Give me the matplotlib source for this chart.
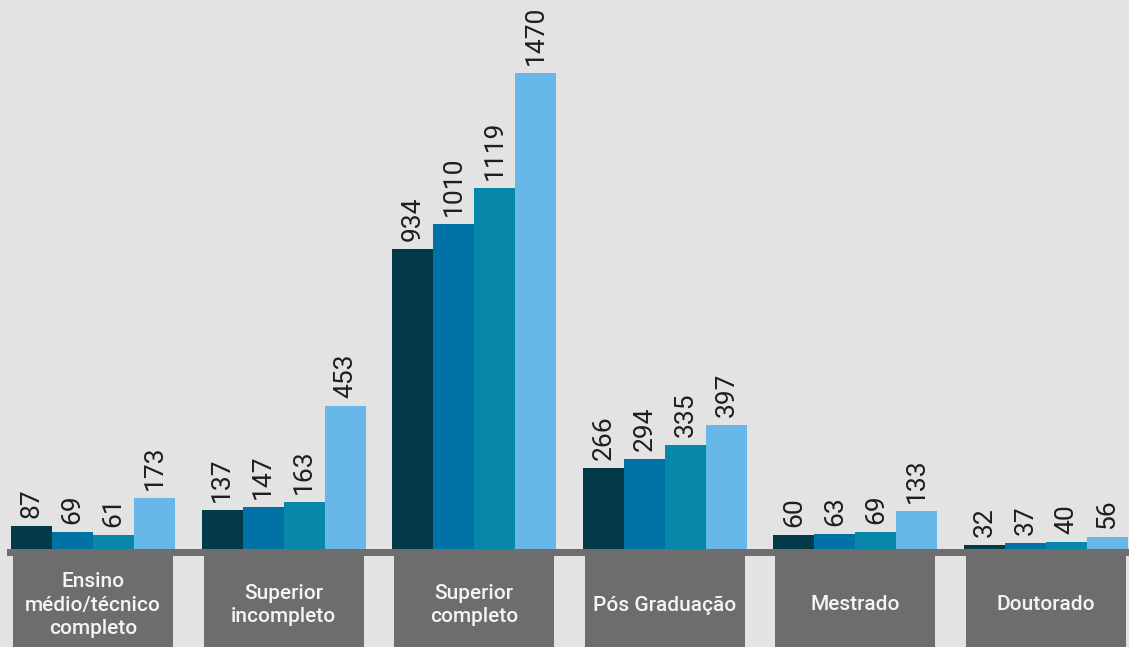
import numpy as np
import matplotlib.pyplot as plt
from matplotlib.patches import Rectangle

categories = ['Ensino\nmédio/técnico\ncompleto', 'Superior\nincompleto', 'Superior\ncompleto',
              'Pós Graduação', 'Mestrado', 'Doutorado']
s1 = [87, 137, 934, 266, 60, 32]
s2 = [69, 147, 1010, 294, 63, 37]
s3 = [61, 163, 1119, 335, 69, 40]
s4 = [173, 453, 1470, 397, 133, 56]
colors = ['#023a4a', '#0072a5', '#0787a9', '#67b8e8']

bg = '#e3e3e3'
W, H = 1129, 647
fig = plt.figure(figsize=(W / 100, H / 100), dpi=100, facecolor=bg)
ax = fig.add_axes([0, 0, 1, 1])
ax.set_facecolor(bg)

# pixel geometry -> data limits
gap = 190.6          # px between group starts
c0 = 93              # px centre of first group
zero = 555           # px of value 0 from top (hidden under the strip)
ppu = 482 / 1470     # px per unit
ax.set_xlim(-c0 / gap, (W - c0) / gap)
ax.set_ylim(-(H - zero) / ppu, zero / ppu)

bw = 41 / gap
x = np.arange(len(categories))
for k, (vals, col) in enumerate(zip([s1, s2, s3, s4], colors)):
    xs = x + (k - 1.5) * bw
    ax.bar(xs, vals, width=bw, color=col, zorder=2)
    for xi, v in zip(xs, vals):
        ax.text(xi, v + 8 / ppu, str(v), rotation=90, ha='center', va='bottom',
                fontsize=19, family='Roboto', color='#1e1e1e')

# baseline strip (549..556 px)
ax.add_patch(Rectangle((-(c0 - 7) / gap, -1 / ppu), (W - 7) / gap, 7 / ppu,
                       color='#6e6e6e', zorder=3, lw=0))
# category boxes (556..647 px)
boxw = 160 / gap
for xi, lab in zip(x, categories):
    ax.add_patch(Rectangle((xi - boxw / 2, -(H - zero) / ppu), boxw,
                           (H - 556) / ppu, color='#6d6d6d', zorder=3, lw=0))
    ax.text(xi, -(605 - zero) / ppu, lab, ha='center', va='center', fontsize=15,
            family='Roboto', fontweight='medium', color='#f4f4f4',
            linespacing=1.3, zorder=4)

ax.axis('off')
fig.savefig('out.png', dpi=100, facecolor=bg)
